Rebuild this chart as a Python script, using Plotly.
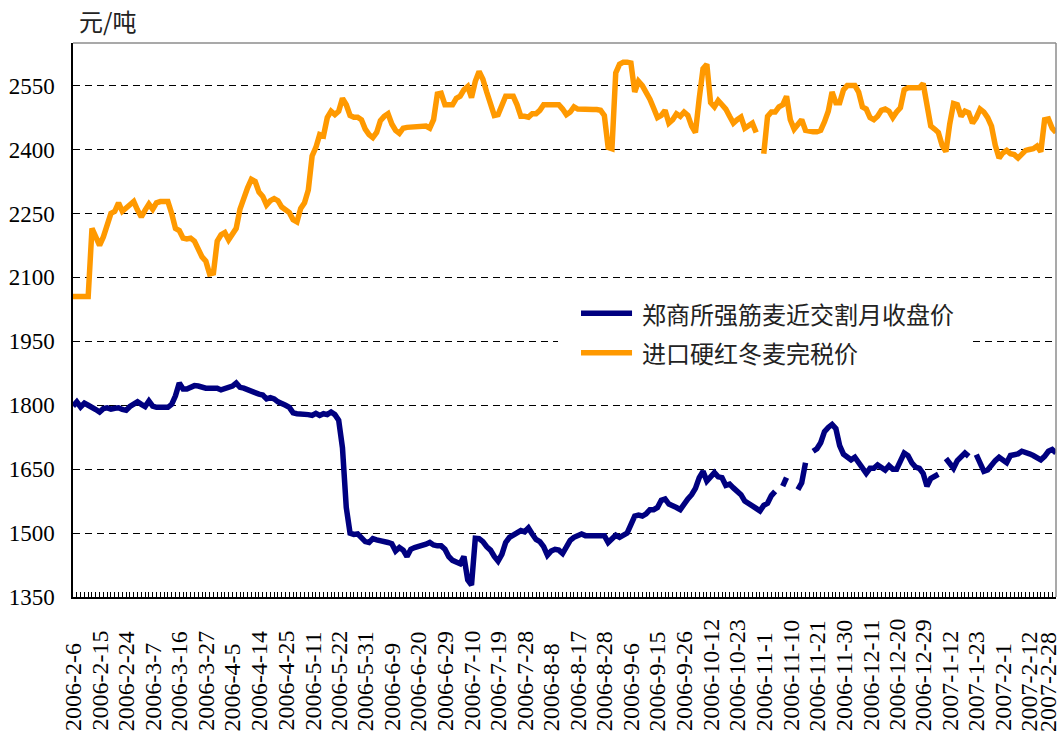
import pandas as pd
import plotly.graph_objects as go

# ---- categories: Zhengzhou trading days 2006-02-06 .. 2007-02-28 ----
HOLIDAYS = ["2006-05-01", "2006-05-02", "2006-05-03", "2006-05-04", "2006-05-05",
            "2006-10-02", "2006-10-03", "2006-10-04", "2006-10-05", "2006-10-06",
            "2007-01-01", "2007-01-02", "2007-01-03",
            "2007-02-19", "2007-02-20", "2007-02-21", "2007-02-22", "2007-02-23"]
_bd = pd.bdate_range("2006-02-06", "2007-02-28")
_bd = _bd[~_bd.isin(pd.to_datetime(HOLIDAYS))]
DATES = [f"{d.year}-{d.month}-{d.day}" for d in _bd]

TICK_LABELS = ["2006-2-6", "2006-2-15", "2006-2-24", "2006-3-7", "2006-3-16", "2006-3-27",
               "2006-4-5", "2006-4-14", "2006-4-25", "2006-5-11", "2006-5-22", "2006-5-31",
               "2006-6-9", "2006-6-20", "2006-6-29", "2006-7-10", "2006-7-19", "2006-7-28",
               "2006-8-8", "2006-8-17", "2006-8-28", "2006-9-6", "2006-9-15", "2006-9-26",
               "2006-10-12", "2006-10-23", "2006-11-1", "2006-11-10", "2006-11-21",
               "2006-11-30", "2006-12-11", "2006-12-20", "2006-12-29", "2007-1-12",
               "2007-1-23", "2007-2-1", "2007-2-12", "2007-2-28"]

# ---- series values (yuan / ton) ----
IMPORT_HRW = [  # 进口硬红冬麦完税价
    2055, 2055, 2055, 2055, 2055, 2215, 2195, 2175, 2195, 2225,
    2250, 2255, 2275, 2255, 2262, 2268, 2278, 2258, 2242, 2258,
    2272, 2260, 2275, 2278, 2278, 2278, 2250, 2215, 2210, 2192,
    2190, 2192, 2185, 2165, 2148, 2138, 2108, 2110, 2185, 2200,
    2205, 2188, 2200, 2215, 2260, 2290, 2310, 2330, 2325, 2300,
    2290, 2270, 2280, 2285, 2280, 2265, 2258, 2252, 2235, 2230,
    2262, 2275, 2305, 2385, 2405, 2435, 2432, 2475, 2490, 2482,
    2490, 2520, 2505, 2480, 2476, 2476, 2470, 2448, 2435, 2428,
    2440, 2468, 2478, 2484, 2460, 2445, 2438, 2450, 2452, 2452,
    2453, 2453, 2455, 2455, 2450, 2470, 2530, 2532, 2505, 2505,
    2505, 2520, 2525, 2540, 2548, 2522, 2560, 2583, 2565, 2535,
    2505, 2480, 2482, 2505, 2525, 2525, 2525, 2505, 2478, 2478,
    2476, 2484, 2484, 2492, 2505, 2505, 2505, 2505, 2505, 2495,
    2482, 2488, 2500, 2495, 2494, 2494, 2494, 2494, 2494, 2492,
    2480, 2405, 2402, 2580, 2600, 2605, 2605, 2603, 2535, 2560,
    2550, 2535, 2518, 2497, 2475, 2480, 2492, 2462, 2470, 2484,
    2478, 2488, 2480, 2455, 2440, 2520, 2590, 2600, 2510, 2500,
    2515, 2505, 2495, 2478, 2462, 2470, 2476, 2450, 2458, 2462,
    2440, None, 2390, 2478, 2488, 2488, 2500, 2505, 2525, 2470,
    2448, 2462, 2470, 2445, 2442, 2442, 2442, 2445, 2465, 2490,
    2535, 2510, 2510, 2540, 2550, 2550, 2550, 2535, 2500, 2495,
    2475, 2470, 2478, 2492, 2495, 2490, 2475, 2488, 2498, 2540,
    2545, 2545, 2545, 2545, 2555, 2510, 2455, 2448, 2440, 2410,
    2395, 2460, 2508, 2505, 2478, 2490, 2486, 2462, 2475, 2495,
    2488, 2475, 2455, 2410, 2380, 2392, 2398, 2390, 2388, 2380,
    2388, 2398, 2400, 2402, 2408, 2395, 2470, 2472, 2450, 2440,
]

ZCE_STRONG = [  # 郑商所强筋麦近交割月收盘价
    1798, 1808, 1796, 1805, 1800, 1796, 1790, 1784, 1792, 1794,
    1791, 1793, 1794, 1790, 1788, 1797, 1803, 1808, 1802, 1797,
    1810, 1798, 1795, 1795, 1795, 1795, 1802, 1822, 1852, 1838,
    1838, 1842, 1846, 1845, 1842, 1840, 1840, 1840, 1840, 1836,
    1838, 1840, 1845, 1852, 1842, 1840, 1836, 1832, 1830, 1826,
    1824, 1815, 1818, 1815, 1808, 1805, 1800, 1795, 1782, 1780,
    1780, 1780, 1778, 1776, 1781, 1776, 1780, 1778, 1784, 1778,
    1765, 1700, 1560, 1500, 1497, 1498, 1490, 1480, 1478, 1487,
    1484, 1483, 1480, 1478, 1475, 1458, 1466, 1460, 1445, 1462,
    1466, 1468, 1472, 1474, 1478, 1472, 1470, 1470, 1462, 1445,
    1436, 1432, 1428, 1445, 1390, 1378, 1488, 1487, 1480, 1468,
    1460, 1445, 1434, 1450, 1478, 1490, 1495, 1502, 1506, 1503,
    1512, 1498, 1485, 1480, 1468, 1448, 1458, 1462, 1460, 1452,
    1470, 1483, 1490, 1495, 1498, 1494, 1494, 1495, 1495, 1495,
    1494, 1478, 1485, 1495, 1490, 1495, 1500, 1520, 1540, 1542,
    1540, 1545, 1555, 1555, 1560, 1577, 1580, 1568, 1565, 1560,
    1555, 1570, 1580, 1590, 1605, 1630, 1645, 1622, 1632, 1642,
    1632, 1630, 1612, 1615, 1606, 1598, 1590, 1575, 1570, 1566,
    1558, 1552, 1565, 1570, 1588, 1598, None, 1610, 1630, None,
    None, 1602, 1618, 1665, None, 1692, 1698, 1712, 1738, 1748,
    1755, 1745, 1705, 1685, 1678, 1672, 1678, 1665, 1650, 1640,
    1652, 1652, 1660, 1652, 1648, 1658, 1650, 1650, 1670, 1688,
    1682, 1665, 1655, 1652, 1640, 1610, 1628, 1634, 1638, None,
    1675, 1662, 1652, 1670, 1680, 1688, 1680, None, 1684, 1665,
    1645, 1648, 1660, 1670, 1678, 1670, 1665, 1682, 1684, 1686,
    1692, 1690, 1686, 1682, 1678, 1672, 1680, 1692, 1696, 1688,
]

NAME_ZCE = "郑商所强筋麦近交割月收盘价"
NAME_HRW = "进口硬红冬麦完税价"
UNIT = "元/吨"
Y_TICKS = [1350, 1500, 1650, 1800, 1950, 2100, 2250, 2400, 2550]

C_BLUE = "#000080"
C_ORANGE = "#FF9900"
NUM_FONT = "Liberation Serif, Noto Sans CJK SC, serif"
CJK_FONT = "Noto Sans CJK SC, sans-serif"

fig = go.Figure()
fig.add_trace(go.Scatter(x=DATES, y=ZCE_STRONG, mode="lines", name=NAME_ZCE,
                         line=dict(color=C_BLUE, width=5.5), connectgaps=False))
fig.add_trace(go.Scatter(x=DATES, y=IMPORT_HRW, mode="lines", name=NAME_HRW,
                         line=dict(color=C_ORANGE, width=5.5), connectgaps=False))

fig.update_xaxes(type="category", categoryorder="array", categoryarray=DATES,
                 range=[0, len(DATES) - 1], showgrid=False,
                 showline=True, linecolor="black", linewidth=1.5,
                 ticks="inside", ticklen=5, tickcolor="black", tickwidth=1,
                 tickmode="array", tickvals=DATES, showticklabels=False,
                 automargin=False, zeroline=False)
fig.update_yaxes(range=[1350, 2650], tickmode="array", tickvals=Y_TICKS,
                 showgrid=True, gridcolor="black", gridwidth=1, griddash="7px,5px",
                 showline=True, linecolor="black", linewidth=1.5, ticks="",
                 ticklabelstandoff=12,
                 tickfont=dict(family=NUM_FONT, size=23, color="black"),
                 automargin=False, zeroline=False)

# frame (top / right) and hand-drawn legend
shapes = [
    dict(type="line", xref="paper", yref="paper", x0=0, x1=1, y0=1, y1=1,
         line=dict(color="#8c8c8c", width=1.5)),
    dict(type="line", xref="paper", yref="paper", x0=1, x1=1, y0=0, y1=1,
         line=dict(color="#8c8c8c", width=1.5)),
    dict(type="rect", xref="paper", yref="paper", x0=0.4934, x1=0.9105, y0=0.385, y1=0.555,
         fillcolor="white", line=dict(width=0), layer="above"),
    dict(type="line", xref="paper", yref="paper", x0=0.5168, x1=0.5687, y0=0.512, y1=0.512,
         line=dict(color=C_BLUE, width=5.5), layer="above"),
    dict(type="line", xref="paper", yref="paper", x0=0.5168, x1=0.5687, y0=0.441, y1=0.441,
         line=dict(color=C_ORANGE, width=5.5), layer="above"),
]
annotations = [
    dict(text=NAME_ZCE, xref="paper", yref="paper", x=0.5769, y=0.512,
         xanchor="left", yanchor="middle", showarrow=False,
         font=dict(family=CJK_FONT, size=24, color="#222222")),
    dict(text=NAME_HRW, xref="paper", yref="paper", x=0.5769, y=0.441,
         xanchor="left", yanchor="middle", showarrow=False,
         font=dict(family=CJK_FONT, size=24, color="#222222")),
    dict(text=UNIT, xref="paper", yref="paper", x=0.004, y=1.040,
         xanchor="left", yanchor="middle", showarrow=False,
         font=dict(family=CJK_FONT, size=24, color="#222222")),
]
# category labels (every 7th trading day), vertical, bottoms aligned
for k, lab in enumerate(TICK_LABELS):
    last = (k == len(TICK_LABELS) - 1)
    annotations.append(dict(
        text=lab, x=lab, xref="x", y=-0.2455, yref="paper",
        xanchor="center", yanchor="bottom", textangle=-90, showarrow=False,
        xshift=(-8 if last else 0), borderpad=(0 if last else 1),
        font=dict(family=NUM_FONT, size=24, color="black")))

fig.update_layout(width=1061, height=735, showlegend=False,
                  margin=dict(l=73, r=5, t=43, b=138, autoexpand=False),
                  paper_bgcolor="white", plot_bgcolor="white",
                  shapes=shapes, annotations=annotations)

fig.write_html("out.html", config={"displayModeBar": False},
               post_script="document.body.style.margin='0px';"
                           "document.documentElement.style.overflow='hidden';")
